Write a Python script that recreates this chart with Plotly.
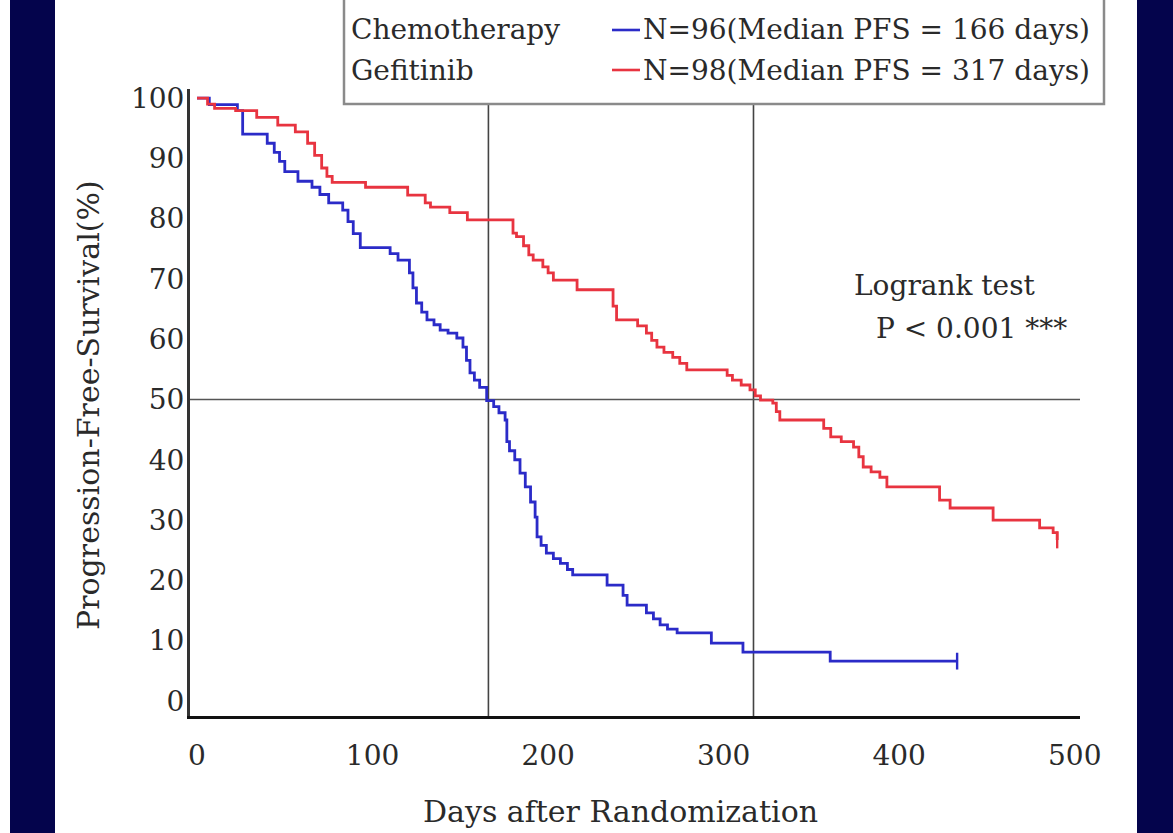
import plotly.graph_objects as go

# Kaplan-Meier step points: day of event, progression-free survival (%) after it
chemo_days = [0, 7, 23, 26, 40, 44, 47, 50, 57.5, 65.5, 70, 75, 83, 86, 89, 93,
              110, 114.5, 121, 123, 125, 128, 131, 135, 138.5, 143, 148, 151.5,
              153.5, 155.5, 158, 161, 165, 169, 172, 175.5, 176.5, 178, 181, 184,
              187, 190, 192.6, 193.7, 196, 199, 203, 207, 211, 214, 233.6, 242.7,
              245, 256, 260, 263.8, 268, 273.5, 293, 311, 360.7, 433]
chemo_pfs = [100, 98.9, 97.9, 94.0, 92.5, 91.0, 89.5, 87.8, 86.2, 85.2, 84.0, 82.6,
             81.4, 79.5, 77.5, 75.2, 74.2, 73.1, 71.0, 68.5, 66.0, 64.5, 63.2, 62.4,
             61.5, 61.0, 60.2, 58.7, 56.5, 54.4, 53.2, 52.0, 49.8, 48.8, 47.8, 46.6,
             43.0, 41.5, 40.0, 37.8, 35.5, 33.0, 30.5, 27.2, 25.8, 24.5, 23.6, 22.8,
             21.8, 20.9, 19.2, 17.5, 15.9, 14.6, 13.6, 12.6, 11.9, 11.3, 9.6, 8.1,
             6.6, 6.6]

gef_days = [0, 6, 10, 22, 34, 46, 56, 63, 67, 71, 74, 77, 96, 120, 130, 133, 144,
            154, 180, 182, 186, 189, 191.5, 197, 200, 203, 216.5, 237, 239, 251,
            256, 259, 262, 266, 271, 275, 279, 302, 305, 310, 315, 318, 321, 328,
            330, 332, 357, 361, 367, 374, 377, 379.5, 384, 389, 393, 423, 429,
            453.5, 480, 487.7, 490]
gef_pfs = [100, 99.0, 98.3, 97.9, 96.8, 95.5, 94.4, 92.5, 90.5, 88.4, 87.0, 86.0,
           85.2, 83.9, 82.6, 81.9, 81.0, 79.8, 77.6, 77.0, 75.5, 74.0, 73.1, 72.0,
           71.0, 69.8, 68.2, 65.5, 63.2, 62.2, 61.0, 59.8, 58.7, 57.8, 57.0, 56.0,
           54.9, 54.0, 53.2, 52.4, 51.6, 50.6, 49.9, 49.4, 48.0, 46.6, 45.2, 43.8,
           43.0, 42.1, 40.5, 38.8, 38.0, 37.1, 35.5, 33.3, 32.0, 30.0, 28.7, 27.9,
           26.7]

groups = ["Chemotherapy", "Gefitinib"]
group_n = [96, 98]
median_pfs = [166, 317]
x_ticks = [0, 100, 200, 300, 400, 500]
y_ticks = list(range(0, 101, 10))

BLUE = "#2b2bc8"
RED = "#e83440"
NAVY = "#04044c"
FONT = "DejaVu Serif"
TXT = "#2a2a2a"

# layout geometry in pixels
W, H = 1173, 833
L, R, T, B = 190, 1080, 89, 716


def px(x):
    return (x - L) / (R - L)


def py(y):
    return (B - y) / (B - T)


fig = go.Figure()

for days, pfs, color in [(chemo_days, chemo_pfs, BLUE), (gef_days, gef_pfs, RED)]:
    fig.add_trace(go.Scatter(x=days, y=pfs, mode="lines", line_shape="hv",
                             line=dict(color=color, width=2.8), showlegend=False,
                             hoverinfo="skip"))
    # censoring mark at last follow-up
    fig.add_trace(go.Scatter(x=[days[-1]], y=[pfs[-1]], mode="markers",
                             marker=dict(symbol="line-ns", size=12,
                                         line=dict(color=color, width=2.4)),
                             showlegend=False, hoverinfo="skip"))

shapes = []
# median reference lines
shapes.append(dict(type="line", xref="x", yref="y", x0=-4, x1=503, y0=50, y1=50,
                   line=dict(color="#555555", width=1.6), layer="below"))
for m in median_pfs:
    shapes.append(dict(type="line", xref="x", yref="paper", x0=m, x1=m, y0=0, y1=1,
                       line=dict(color="#444444", width=1.6), layer="below"))

# side bands
shapes.append(dict(type="rect", xref="paper", yref="paper", x0=px(10), x1=px(55),
                   y0=py(H), y1=py(0), fillcolor=NAVY, line=dict(width=0)))
shapes.append(dict(type="rect", xref="paper", yref="paper", x0=px(1137), x1=px(W),
                   y0=py(H), y1=py(0), fillcolor=NAVY, line=dict(width=0)))

# legend box
shapes.append(dict(type="rect", xref="paper", yref="paper", x0=px(344), x1=px(1104),
                   y0=py(104), y1=py(-10), fillcolor="white",
                   line=dict(color="#8a8a8a", width=2.5), layer="above"))
legend_rows = [30, 70]
for color, yrow in zip([BLUE, RED], legend_rows):
    shapes.append(dict(type="line", xref="paper", yref="paper", x0=px(612), x1=px(640),
                       y0=py(yrow), y1=py(yrow), line=dict(color=color, width=2.6),
                       layer="above"))

annotations = []
for g, n, m, yrow in zip(groups, group_n, median_pfs, legend_rows):
    annotations.append(dict(xref="paper", yref="paper", x=px(349), y=py(yrow),
                            text=g, showarrow=False, xanchor="left", yanchor="middle",
                            font=dict(family=FONT, size=28, color=TXT)))
    annotations.append(dict(xref="paper", yref="paper", x=px(641), y=py(yrow),
                            text=f"N={n}(Median PFS = {m} days)", showarrow=False,
                            xanchor="left", yanchor="middle",
                            font=dict(family=FONT, size=28, color=TXT)))

annotations.append(dict(xref="paper", yref="paper", x=px(852), y=py(285),
                        text="Logrank test", showarrow=False, xanchor="left",
                        yanchor="middle", font=dict(family=FONT, size=28, color=TXT)))
annotations.append(dict(xref="paper", yref="paper", x=px(874), y=py(328),
                        text="P < 0.001 ***", showarrow=False, xanchor="left",
                        yanchor="middle", font=dict(family=FONT, size=28, color=TXT)))

annotations.append(dict(xref="paper", yref="paper", x=px(620), y=py(811),
                        text="Days after Randomization", showarrow=False,
                        xanchor="center", yanchor="middle",
                        font=dict(family=FONT, size=30, color=TXT)))
annotations.append(dict(xref="paper", yref="paper", x=px(88), y=py(405),
                        text="Progression-Free-Survival(%)", showarrow=False,
                        textangle=-90, xanchor="center", yanchor="middle",
                        font=dict(family=FONT, size=30, color=TXT)))

fig.update_layout(
    width=W, height=H,
    margin=dict(l=L, r=W - R, t=T, b=H - B, pad=0),
    paper_bgcolor="white", plot_bgcolor="white",
    shapes=shapes, annotations=annotations,
    showlegend=False,
    xaxis=dict(range=[-4, 503], tickvals=x_ticks, ticktext=[str(v) for v in x_ticks],
               showgrid=False, zeroline=False, showline=True, linecolor="#111111",
               linewidth=3, ticks="", ticklabelstandoff=12,
               tickfont=dict(family=FONT, size=28, color=TXT)),
    yaxis=dict(range=[-2.5, 101.5], tickvals=y_ticks, ticktext=[str(v) for v in y_ticks],
               showgrid=False, zeroline=False, showline=True, linecolor="#333333",
               linewidth=3, ticks="", ticklabelstandoff=-3,
               tickfont=dict(family=FONT, size=28, color=TXT)),
)

fig.write_html("out.html")
